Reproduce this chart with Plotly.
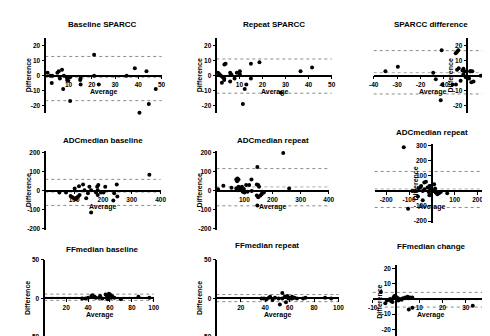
import plotly.graph_objects as go

W, H = 490, 336

# ---------------- data ----------------
titles = ["Baseline SPARCC", "Repeat SPARCC", "SPARCC difference",
          "ADCmedian baseline", "ADCmedian repeat", "ADCmedian repeat",
          "FFmedian baseline", "FFmedian repeat", "FFmedian change"]
x_title = "Average"
y_title = "Difference"

baseline_sparcc_avg = [1, 2.2, 3, 2.8, 5.2, 5.8, 7.2, 6.3, 8, 7.7, 9.2, 9.4, 9.9, 10.7, 10.7,
                       15, 15.2, 15.2, 21, 21, 23, 35, 38.5, 43.5, 40.5, 44.5, 47.5]
baseline_sparcc_diff = [2, 0, 0, -5, 2, 3, 4, -2, 0, -9, -1, -3, -3.5, -1, -17,
                        -3, -2, -6, 14, 0, -6, 0, 5, 3, -25, -19, -9]
baseline_sparcc_limits = [12.9, -1.3, -16.8]

repeat_sparcc_avg = [0.7, 1.4, 2, 2.4, 2.8, 3.4, 3.4, 3.5, 4, 6, 6, 6.3, 6.6, 7.9, 8.9,
                     10.2, 10.2, 12.3, 13, 11.5, 15, 15, 18.7, 28, 36.5, 41.5]
repeat_sparcc_diff = [2, 1, 0, -4.7, -1, -2, -3, 7.5, 8, 2, -4, 1, 0.5, -2, 2,
                      3, 1, -9, -6, -19, 8, -2, 9, -11.5, 3, 5.4]
repeat_sparcc_limits = [11.2, -0.4, -11.8]

sparcc_change_avg = [-35, -29.7, -14.6, -13.5, -11, -11.4, -10.7, -6.4, -4.9, -5, -4.4, -3.9,
                     -4.4, -3.7, -2.9, -2.1, -1.7, -1.1, -1.7, -0.7, 0.7, 1.1, 1.4, 2.1, 1.7, 2.6, 5.7]
sparcc_change_diff = [3, 6, 2, -2.5, 17, -16.5, -6, -6, -6, 15, 16, 17,
                      4, 5, -3.5, 3.5, 4.7, 3, 1, -1, -2, 3, 3, 3, -4.5, -4, 0]
sparcc_change_limits = [16.8, 2, -12.3]

adc_baseline_avg = [49, 72, 88, 94, 100, 106, 109, 102, 114, 119, 117, 131, 136, 142, 148, 153,
                    159, 180, 182, 184, 182, 176, 193, 208, 202, 159, 239, 236, 248, 250, 361]
adc_baseline_diff = [-9, -9, -28, -35, -40, -45, -37, 12, -31, -23, 24, 33, 3, -40, -14, 21,
                     3, 21, 3, 30, -23, -9, -10, 21, -9, -115, -14, -52, 33, -31, 85]
adc_baseline_limits = [60, -8, -78]

adc_repeat_avg = [6, 25, 54, 71, 75, 79, 74, 71, 77, 79, 83, 86, 89, 91, 94, 98, 100, 106, 111,
                  117, 125, 126, 146, 144, 149, 152, 146, 144, 149, 157, 161, 163, 169, 238, 259]
adc_repeat_diff = [7, 26, 16, 59, 64, 59, 50, 12, 3, 21, 12, 12, 3, 21, -5, 9, -9, 30, -5,
                   30, 59, -2, -78, 33, 30, 21, 125, -26, -35, -26, -19, -5, -9, 200, 12]
adc_repeat_limits = [117, 20, -80]

adc_change_avg = [-123, -104, -86, -71, -61, -57, -51, -47, -40, -40, -33, -26, -33, -19,
                  -14, -11, -7, -4, 6, 10, 14, 17, 24, 31, 39, 67, -11, -4]
adc_change_diff = [289, -118, 0, 0, -38, 18, 22, 33, -62, 0, 56, 60, 11, 22,
                   -7, -29, 11, 33, 0, 44, 16, -11, -22, -16, -7, -16, 33, -22]
adc_change_limits = [129, 13, -110]

ff_baseline_avg = [34.6, 37.6, 40, 43, 44, 46, 47, 50, 51, 53, 56, 57, 58, 59, 59, 60, 61,
                   62, 64, 70, 86, 96]
ff_baseline_diff = [0, 0, 1, 3, 4, 2, 1, 1, 3, 0, 5, 1, -1, 6, 3, 5, 1, 3, 1, -1, 2, 1]
ff_baseline_limits = [5.5, 1.5, -2.5]

ff_repeat_avg = [37, 39, 41, 43, 44, 46, 48, 51, 52, 54, 54, 56, 57, 58, 59, 60, 61, 62, 62,
                 64, 66, 71, 73, 89, 94]
ff_repeat_diff = [0, 0, -1, 1, 2, -2, 1, 0, -8, 7, 0, 2, -5, 3, 0, 1, 0, 2, 0, 1, 0, 0, 1, 1, 0]
ff_repeat_limits = [5, 0.5, -4.2]

ff_change_avg = [-6.5, -4.6, -3.9, -3.2, -2.5, -2.1, -1.5, -1.1, -0.7, 0, 0.3, 0.7, 1, 1.7,
                 2.4, 3, 4, 5, 5.2, 6, 7, 5.5, 7.1, 33]
ff_change_diff = [4.5, -2.8, -1, -0.6, 0, -1.5, -2, 1, 2, 1.5, 0, 0.6, -1, 0,
                  -0.6, 0.4, 1, 1.5, 0.4, 1, 1, -7, -5.8, -4.5]
ff_change_limits = [4.3, -0.5, -5.4]

# tick values
sparcc_x_ticks = [10, 20, 30, 40, 50]
sparcc_change_x_ticks = [-40, -30, -20, -10, 10]
sparcc_y_ticks = [20, 10, 0, -10, -20]
sparcc_change_y_ticks = [20, 10, -10, -20]
adc_x_ticks = [100, 200, 300, 400]
adc_y_ticks = [200, 100, 0, -100, -200]
adc_change_x_ticks = [-200, -100, 100, 200]
adc_change_y_ticks = [300, 200, 100, -100, -200]
ff_x_ticks = [20, 40, 60, 80, 100]
ff_y_ticks = [50, 0, -50]
ff_change_x_ticks = [-10, 10, 20, 30, 40]
ff_change_y_ticks = [20, 10, -10, -20]

# ---------------- layout geometry (pixels) ----------------
panels = [
    dict(avg=baseline_sparcc_avg, diff=baseline_sparcc_diff, lim=baseline_sparcc_limits,
         xr=[0, 50], yr=[-25, 25], px=(33, 152, 27, 103), xt=sparcc_x_ticks, yt=sparcc_y_ticks, tpos=(92, 13)),
    dict(avg=repeat_sparcc_avg, diff=repeat_sparcc_diff, lim=repeat_sparcc_limits,
         xr=[0, 50], yr=[-25, 25], px=(208, 326, 27, 103), xt=sparcc_x_ticks, yt=sparcc_y_ticks, tpos=(267, 13)),
    dict(avg=sparcc_change_avg, diff=sparcc_change_diff, lim=sparcc_change_limits,
         xr=[-40, 10.5], yr=[-25, 25], px=(369, 490, 27, 103), xt=sparcc_change_x_ticks, yt=sparcc_change_y_ticks, tpos=(428, 13)),
    dict(avg=adc_baseline_avg, diff=adc_baseline_diff, lim=adc_baseline_limits,
         xr=[0, 400], yr=[-210, 210], px=(33, 151, 142, 223), xt=adc_x_ticks, yt=adc_y_ticks, tpos=(92, 131)),
    dict(avg=adc_repeat_avg, diff=adc_repeat_diff, lim=adc_repeat_limits,
         xr=[0, 400], yr=[-210, 210], px=(208, 323, 142, 223), xt=adc_x_ticks, yt=adc_y_ticks, tpos=(266, 131)),
    dict(avg=adc_change_avg, diff=adc_change_diff, lim=adc_change_limits,
         xr=[-250, 250], yr=[-210, 310], px=(370, 487, 135, 215), xt=adc_change_x_ticks, yt=adc_change_y_ticks, tpos=(429, 123)),
    dict(avg=ff_baseline_avg, diff=ff_baseline_diff, lim=ff_baseline_limits,
         xr=[0, 100], yr=[-50, 50], px=(32, 144, 253, 332), xt=ff_x_ticks, yt=ff_y_ticks, tpos=(92, 243)),
    dict(avg=ff_repeat_avg, diff=ff_repeat_diff, lim=ff_repeat_limits,
         xr=[0, 100], yr=[-50, 50], px=(208, 333, 253, 332), xt=ff_x_ticks, yt=ff_y_ticks, tpos=(260, 238)),
    dict(avg=ff_change_avg, diff=ff_change_diff, lim=ff_change_limits,
         xr=[-10, 40], yr=[-25.8, 22.6], px=(368, 487, 258, 333), xt=ff_change_x_ticks, yt=ff_change_y_ticks, tpos=(428, 239)),
]

FONT = "Arial, Liberation Sans, Helvetica, sans-serif"
fig = go.Figure()
layout = dict(width=W, height=H, margin=dict(l=0, r=0, t=0, b=0),
              plot_bgcolor="white", paper_bgcolor="white", showlegend=False,
              font=dict(family=FONT, color="black"))
shapes, annotations = [], []

for i, (p, title) in enumerate(zip(panels, titles)):
    n = "" if i == 0 else str(i + 1)
    xa, ya = "x" + n, "y" + n
    x0p, x1p, ytp, ybp = p["px"]
    dx = [x0p / W, x1p / W]
    dy = [1 - ybp / H, 1 - ytp / H]
    (xr0, xr1), (yr0, yr1) = p["xr"], p["yr"]
    # where zero lies
    ypos = dy[0] + (0 - yr0) / (yr1 - yr0) * (dy[1] - dy[0])
    xpos = dx[0] + (0 - xr0) / (xr1 - xr0) * (dx[1] - dx[0])
    zero_px_y = ybp - (0 - yr0) / (yr1 - yr0) * (ybp - ytp)
    zero_px_x = x0p + (0 - xr0) / (xr1 - xr0) * (x1p - x0p)

    fig.add_trace(go.Scatter(x=p["avg"], y=p["diff"], mode="markers", xaxis=xa, yaxis=ya,
                             marker=dict(color="black", size=4), cliponaxis=False,
                             hoverinfo="skip"))
    axis_common = dict(showgrid=False, zeroline=False, showline=True, linecolor="black",
                       linewidth=1.5, ticks="outside", ticklen=3, tickwidth=1.2, tickcolor="black",
                       tickfont=dict(size=6.5, family=FONT, color="black"), anchor="free",
                       fixedrange=True)
    layout["xaxis" + n] = dict(axis_common, domain=dx, range=p["xr"], position=ypos,
                               tickmode="array", tickvals=p["xt"],
                               ticktext=["<b>%g</b>" % v for v in p["xt"]], ticklabelstandoff=0)
    layout["yaxis" + n] = dict(axis_common, domain=dy, range=p["yr"], position=xpos,
                               tickmode="array", tickvals=p["yt"],
                               ticktext=["<b>%g</b>" % v for v in p["yt"]], ticklabelstandoff=0)
    for k, v in enumerate(p["lim"]):
        shapes.append(dict(type="line", xref=xa + " domain", yref=ya, x0=0, x1=1, y0=v, y1=v,
                           line=dict(color="#8a8a8a" if k != 1 else "#aaaaaa", width=1, dash="dot"),
                           layer="below"))
    annotations.append(dict(text="<b>%s</b>" % title, xref="paper", yref="paper",
                            x=p["tpos"][0] / W, y=1 - p["tpos"][1] / H, showarrow=False,
                            font=dict(size=8, family=FONT), xanchor="center", yanchor="middle"))
    annotations.append(dict(text="<b>%s</b>" % x_title, xref="paper", yref="paper",
                            x=(x0p + x1p) / 2 / W, y=1 - (zero_px_y + 16.5) / H, showarrow=False,
                            font=dict(size=7, family=FONT), xanchor="center", yanchor="middle"))
    annotations.append(dict(text="<b>%s</b>" % y_title, xref="paper", yref="paper",
                            x=(zero_px_x - 17) / W, y=1 - (ytp + ybp) / 2 / H, showarrow=False,
                            textangle=-90,
                            font=dict(size=7, family=FONT), xanchor="center", yanchor="middle"))

layout["shapes"] = shapes
layout["annotations"] = annotations
fig.update_layout(**layout)
fig.write_html("out.html")
